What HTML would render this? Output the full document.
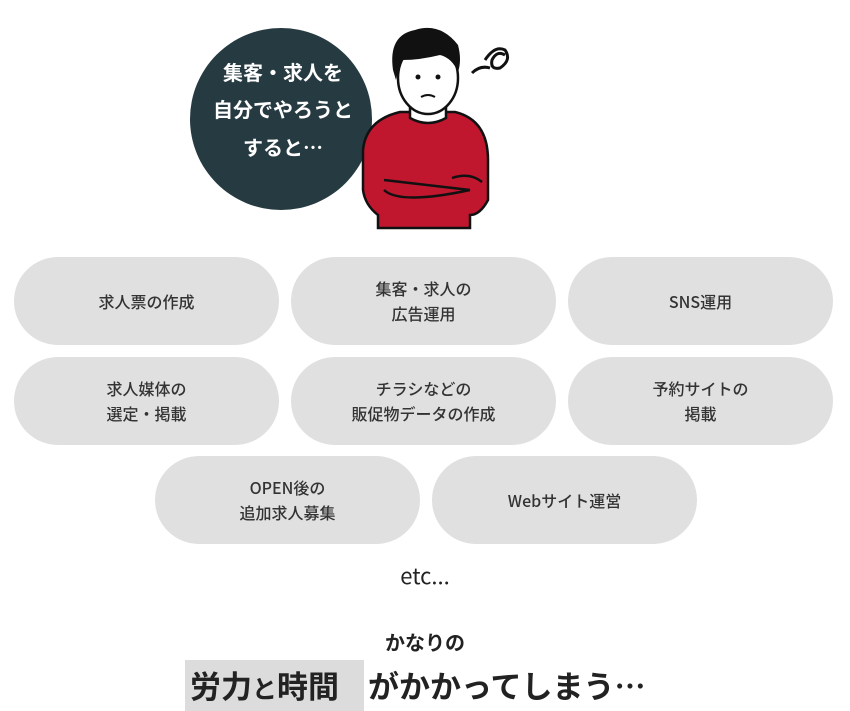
<!DOCTYPE html>
<html><head><meta charset="utf-8"><style>
body{margin:0;width:850px;height:711px;background:#fff;position:relative;overflow:hidden;font-family:"Liberation Sans","Noto Sans CJK JP",sans-serif;color:#333}
.p{position:absolute;width:265px;height:88px;border-radius:44px;background:#e0e0e0;display:flex;align-items:center;justify-content:center;text-align:center;font-size:16px;line-height:25px;font-weight:500;color:#333;font-family:"Noto Sans CJK JP",sans-serif}
.t{position:absolute;left:0;width:850px;text-align:center}
</style></head><body>
<svg style="position:absolute;left:0;top:0" width="850" height="240">
<circle cx="281" cy="119" r="91" fill="#263a42"/>
<text x="283" y="80" fill="#fff" font-size="20" font-weight="bold" text-anchor="middle" font-family="Noto Sans CJK JP,sans-serif">集客・求人を</text>
<text x="283" y="117" fill="#fff" font-size="20" font-weight="bold" text-anchor="middle" font-family="Noto Sans CJK JP,sans-serif">自分でやろうと</text>
<text x="283" y="155" fill="#fff" font-size="20" font-weight="bold" text-anchor="middle" font-family="Noto Sans CJK JP,sans-serif">すると…</text>
<path d="M363 150 Q366 120 400 112 L455 112 Q488 120 488 160 L488 200 Q480 215 470 215 L470 228 L378 228 L378 215 Q365 205 363 190 Z" fill="#c0172f" stroke="#111" stroke-width="2.5"/>
<path d="M384 180 L470 190 M384 190 Q400 205 470 190 M452 178 Q470 172 482 182" fill="none" stroke="#111" stroke-width="2.5"/>
<path d="M410 100 L410 118 Q428 128 446 118 L446 100 Z" fill="#fff" stroke="#111" stroke-width="2.5"/>
<ellipse cx="428" cy="78" rx="30" ry="36" fill="#fff" stroke="#111" stroke-width="2.5"/>
<path d="M393 70 Q388 35 415 30 Q440 22 458 45 Q462 60 458 72 Q452 58 440 55 Q420 60 402 60 Q398 70 396 80 Z" fill="#111"/>
<circle cx="418" cy="77" r="2.5" fill="#111"/><circle cx="438" cy="77" r="2.5" fill="#111"/>
<path d="M421 97 Q428 93 435 97" fill="none" stroke="#111" stroke-width="2"/>
<path d="M472 73 Q480 65 490 68 M485 60 Q495 45 505 50 Q512 60 500 68 Q490 70 492 60 Q497 50 505 55" fill="none" stroke="#111" stroke-width="3"/>
</svg>
<div class="p" style="left:14px;top:257px">求人票の作成</div>
<div class="p" style="left:291px;top:257px">集客・求人の<br>広告運用</div>
<div class="p" style="left:568px;top:257px">SNS運用</div>
<div class="p" style="left:14px;top:357px">求人媒体の<br>選定・掲載</div>
<div class="p" style="left:291px;top:357px">チラシなどの<br>販促物データの作成</div>
<div class="p" style="left:568px;top:357px">予約サイトの<br>掲載</div>
<div class="p" style="left:155px;top:456px">OPEN後の<br>追加求人募集</div>
<div class="p" style="left:432px;top:456px">Webサイト運営</div>
<div class="t" style="top:559px;font-size:22px;color:#222;font-family:'Noto Sans CJK JP',sans-serif">etc...</div>
<div class="t" style="top:627px;font-size:20px;font-weight:bold;color:#222;font-family:'Noto Sans CJK JP',sans-serif">かなりの</div>
<div style="position:absolute;left:185px;top:660px;width:179px;height:51px;background:#dcdcdc"></div>
<div style="position:absolute;left:190px;top:663px;font-size:31px;font-weight:bold;color:#222;white-space:nowrap;line-height:44px;font-family:'Noto Sans CJK JP',sans-serif">労力<span style="font-size:25px">と</span>時間</div>
<div style="position:absolute;left:368px;top:663px;font-size:31px;font-weight:bold;color:#222;white-space:nowrap;line-height:44px;font-family:'Noto Sans CJK JP',sans-serif">がかかってしまう⋯</div>
</body></html>
